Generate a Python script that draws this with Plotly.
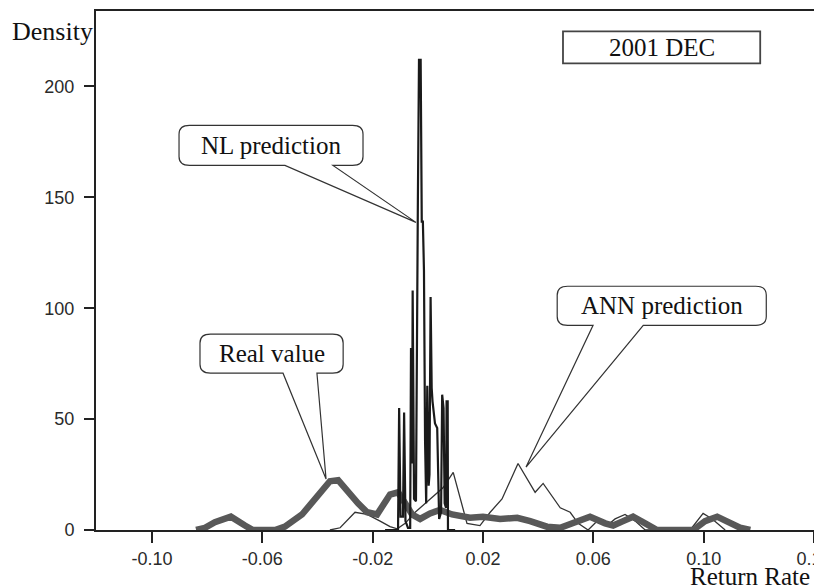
import plotly.graph_objects as go

# ---------------- data ----------------
real_x = [-0.0840, -0.0808, -0.0772, -0.0714, -0.0663, -0.0634, -0.0554, -0.0518, -0.0456, -0.0409,
          -0.0355, -0.0325, -0.0289, -0.0253, -0.0220, -0.0184, -0.0137, -0.0108, -0.0082, -0.0057,
          -0.0028, 0.0008, 0.0044, 0.0088, 0.0153, 0.0200, 0.0262, 0.0324, 0.0371, 0.0432,
          0.0480, 0.0534, 0.0588, 0.0643, 0.0672, 0.0708, 0.0744, 0.0788, 0.0831, 0.0962,
          0.1005, 0.1049, 0.1096, 0.1132, 0.1169]
real_y = [0, 1, 3.5, 6, 2, 0, 0, 1.5, 7, 14,
          22, 22.5, 17, 12, 8, 7, 16, 17, 12, 7,
          5, 7.5, 9, 7, 5.5, 6, 5, 5.5, 4, 1.5,
          1, 3.5, 6, 3, 2, 4, 6, 3, 0, 0,
          4, 6, 3.5, 1, 0]

ann_x = [-0.0355, -0.0318, -0.0264, -0.0220, -0.0173, -0.0137, -0.0111, -0.0082, -0.0046, -0.0010,
         0.0026, 0.0055, 0.0092, 0.0142, 0.0189, 0.0226, 0.0269, 0.0327, 0.0389, 0.0418,
         0.0480, 0.0516, 0.0545, 0.0581, 0.0614, 0.0650, 0.0679, 0.0715, 0.0752, 0.0788,
         0.0951, 0.0998, 0.1031, 0.1078]
ann_y = [0, 1, 8, 7, 4, 1.5, 0.5, 3, 8, 12,
         16, 19, 26, 3, 2, 8, 14, 30, 17, 21,
         10, 8, 3, 0, 4, 2, 5, 7, 4, 0,
         0, 7.5, 5, 0]

nl_x = [-0.0155, -0.0108, -0.0104, -0.0099, -0.0090, -0.0086, -0.0081, -0.0072, -0.0064, -0.0061,
        -0.0057, -0.0055, -0.0050, -0.0043, -0.0036, -0.0032, -0.0026, -0.0022, -0.0018, -0.0014,
        -0.0010, -0.0006, -0.0002, 0.0003, 0.0006, 0.0010, 0.0014, 0.0017, 0.0026, 0.0034,
        0.0041, 0.0048, 0.0052, 0.0057, 0.0061, 0.0066, 0.0068, 0.0072, 0.0073, 0.0099]
nl_y = [0, 0, 55, 6, 6, 53, 4, 1, 1, 82,
        30, 108, 14, 13, 150, 212, 212, 139, 139, 117,
        40, 12, 65, 20, 25, 105, 64, 58, 48, 46,
        5, 8, 61, 55, 12, 10, 58, 58, 0, 0]

x_ticks = [-0.10, -0.06, -0.02, 0.02, 0.06, 0.10, 0.14]
x_tick_labels = ["-0.10", "-0.06", "-0.02", "0.02", "0.06", "0.10", "0.14"]
y_ticks = [0, 50, 100, 150, 200]
y_tick_labels = ["0", "50", "100", "150", "200"]

SERIF = "Liberation Serif, Times New Roman, serif"
SANS = "Liberation Sans, Arial, sans-serif"

fig = go.Figure()
fig.add_trace(go.Scatter(x=ann_x, y=ann_y, mode="lines", name="ANN prediction",
                         line=dict(color="#333333", width=1.3)))
fig.add_trace(go.Scatter(x=real_x, y=real_y, mode="lines", name="Real value",
                         line=dict(color="#585858", width=6.5)))
fig.add_trace(go.Scatter(x=nl_x, y=nl_y, mode="lines", name="NL prediction",
                         line=dict(color="#1a1a1a", width=2.2)))


def callout(x0, x1, y0, y1, bx1, bx2, tx, ty, text, rx=0.0038, ry=4.0):
    path = (f"M{bx1},{y0} L{x0 + rx},{y0} Q{x0},{y0} {x0},{y0 + ry} "
            f"L{x0},{y1 - ry} Q{x0},{y1} {x0 + rx},{y1} "
            f"L{x1 - rx},{y1} Q{x1},{y1} {x1},{y1 - ry} "
            f"L{x1},{y0 + ry} Q{x1},{y0} {x1 - rx},{y0} "
            f"L{bx2},{y0} L{tx},{ty} Z")
    fig.add_shape(type="path", path=path, xref="x", yref="y",
                  line=dict(color="#333333", width=1.2), fillcolor="white", layer="above")
    fig.add_annotation(x=(x0 + x1) / 2, y=(y0 + y1) / 2, xref="x", yref="y", text=text,
                       showarrow=False, font=dict(family=SERIF, size=25, color="#111111"))


callout(-0.0902, -0.0235, 164.4, 182.4, -0.0518, -0.0344, -0.0043, 138.7, "NL prediction")
callout(-0.0826, -0.0307, 70.7, 88.3, -0.0525, -0.0402, -0.0369, 23.0, "Real value")
callout(0.0469, 0.1227, 92.3, 109.9, 0.0599, 0.0781, 0.0356, 28.4, "ANN prediction")

# "2001 DEC" box
fig.add_shape(type="rect", x0=0.0490, x1=0.1205, y0=210.4, y1=224.8, xref="x", yref="y",
              line=dict(color="#444444", width=1.8), fillcolor="white", layer="above")
fig.add_annotation(x=(0.0490 + 0.1205) / 2, y=(210.4 + 224.8) / 2, xref="x", yref="y",
                   text="2001 DEC", showarrow=False,
                   font=dict(family=SERIF, size=25, color="#111111"))

# axis titles
fig.add_annotation(x=-0.001, y=0.96, xref="paper", yref="paper", text="Density",
                   showarrow=False, xanchor="right", yanchor="middle",
                   font=dict(family=SERIF, size=26, color="#111111"))
fig.add_annotation(x=0.997, y=-0.089, xref="paper", yref="paper", text="Return Rate",
                   showarrow=False, xanchor="right", yanchor="middle",
                   font=dict(family=SERIF, size=25, color="#111111"))

fig.update_layout(
    width=814, height=587,
    margin=dict(l=96, r=0, t=11, b=57, autoexpand=False),
    paper_bgcolor="white", plot_bgcolor="white",
    showlegend=False,
    xaxis=dict(range=[-0.1203, 0.14], tickvals=x_ticks, ticktext=x_tick_labels,
               automargin=False, ticklabeloverflow="allow",
               showgrid=False, zeroline=False, showline=True, linecolor="#222222",
               linewidth=2, mirror=True, ticks="outside", ticklen=11, tickwidth=1.5,
               tickcolor="#222222", tickfont=dict(family=SANS, size=18, color="#2a2a2a")),
    yaxis=dict(range=[0, 234], tickvals=y_ticks, ticktext=y_tick_labels,
               automargin=False,
               showgrid=False, zeroline=False, showline=True, linecolor="#222222",
               linewidth=2, mirror=True, ticks="outside", ticklen=10, tickwidth=1.5,
               tickcolor="#222222", ticklabelstandoff=6,
               tickfont=dict(family=SANS, size=18, color="#2a2a2a")),
)

# remove the default page margin so the 814x587 figure fills the window exactly
fig.write_html(
    "out.html",
    config={"displayModeBar": False},
    post_script="document.body.style.margin='0px';"
                "document.body.style.overflow='hidden';"
                "document.documentElement.style.overflow='hidden';",
)
